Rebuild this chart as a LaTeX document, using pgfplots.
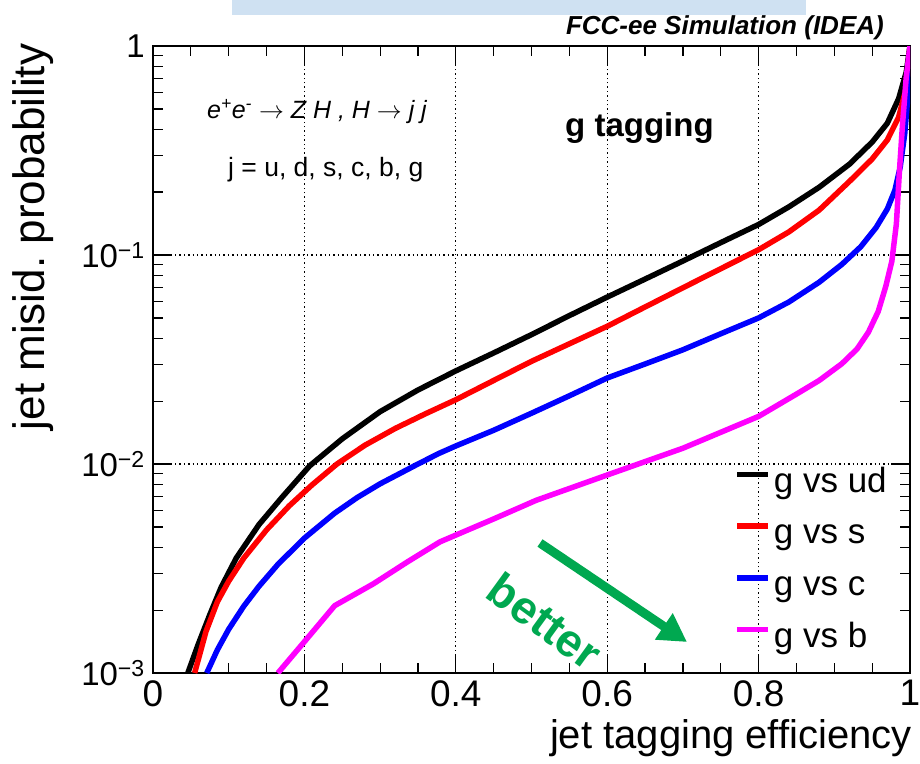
\documentclass[border=0pt]{standalone}
\usepackage{fontspec}
\setmainfont{Liberation Sans}
\usepackage{pgfplots}
\pgfplotsset{compat=1.18}
\usetikzlibrary{arrows.meta}
\definecolor{bettergreen}{RGB}{0,168,80}
\definecolor{boxblue}{RGB}{207,225,242}
\definecolor{cblack}{RGB}{0,0,0}
\definecolor{cred}{RGB}{255,0,0}
\definecolor{cblue}{RGB}{0,0,255}
\definecolor{cmag}{RGB}{255,0,255}
\begin{document}
\begin{tikzpicture}[x=1pt,y=1pt]
\path[use as bounding box] (0,0) rectangle (920,763);
\begin{axis}[
  at={(153pt,90pt)}, anchor=south west,
  scale only axis, width=757pt, height=627pt,
  xmin=0, xmax=1, ymin=1e-3, ymax=1, ymode=log,
  xtick={0,0.2,0.4,0.6,0.8,1},
  xticklabels={0,0.2,0.4,0.6,0.8,1},
  minor x tick num=3,
  ytick={0.001,0.01,0.1,1},
  yticklabels={10\textsuperscript{−3},10\textsuperscript{−2},10\textsuperscript{−1},1},
  minor ytick={0.002,0.003,0.004,0.005,0.006,0.007,0.008,0.009,0.02,0.03,0.04,0.05,0.06,0.07,0.08,0.09,0.2,0.3,0.4,0.5,0.6,0.7,0.8,0.9},
  tick align=inside,
  major tick length=19pt, minor tick length=10pt,
  every tick/.style={black, line width=1.2pt},
  axis line style={line width=1.8pt},
  xmajorgrids, ymajorgrids,
  major grid style={black, line width=1.1pt, dash pattern=on 1.4pt off 3pt},
  xticklabel style={font=\fontsize{37}{37}\selectfont, inner sep=0pt, yshift=-7pt},
  yticklabel style={font=\fontsize{33}{33}\selectfont, inner sep=0pt, xshift=-8pt},
  legend cell align=left,
  legend image code/.code={\draw[#1,line width=5.5pt] (0pt,9pt) -- (31pt,9pt);},
  legend style={at={(0.768,0.3285)}, anchor=north west, draw=none, fill=none,
    inner sep=0pt, outer sep=0pt, row sep=18.7pt,
    font=\fontsize{35}{35}\selectfont,
    nodes={inner sep=0pt, text height=25pt, text depth=8pt},
    /tikz/every odd column/.append style={column sep=3pt}},
  every axis plot/.append style={line width=5.5pt, line join=round, no marks},
]
\addplot[cblack] coordinates {
(0.046,0.001) (0.06,0.00138) (0.075,0.0019) (0.09,0.00257) (0.11,0.00355)
(0.14,0.00513) (0.17,0.0069) (0.207,0.0098) (0.25,0.0132) (0.3,0.0178)
(0.35,0.0226) (0.4,0.0279) (0.45,0.0340) (0.5,0.0416) (0.55,0.0513)
(0.6,0.0629) (0.65,0.0767) (0.7,0.0936) (0.75,0.1146) (0.8,0.140)
(0.84,0.170) (0.88,0.211) (0.92,0.272) (0.95,0.347) (0.97,0.427)
(0.985,0.56) (0.995,0.75) (1.0,1.0)};
\addlegendentry{g vs ud}
\addplot[cred] coordinates {
(0.055,0.001) (0.07,0.00158) (0.085,0.00219) (0.1,0.00275) (0.12,0.00355)
(0.15,0.00484) (0.18,0.00631) (0.21,0.00794) (0.243,0.0100) (0.28,0.0123)
(0.32,0.0148) (0.36,0.0174) (0.4,0.0203) (0.45,0.0251) (0.5,0.0310)
(0.55,0.0376) (0.6,0.0456) (0.65,0.0564) (0.7,0.0697) (0.75,0.0860)
(0.8,0.106) (0.84,0.129) (0.88,0.164) (0.92,0.225) (0.95,0.288)
(0.97,0.355) (0.985,0.457) (0.995,0.63) (1.0,1.0)};
\addlegendentry{g vs s}
\addplot[cblue] coordinates {
(0.071,0.001) (0.085,0.00129) (0.1,0.00162) (0.12,0.00209) (0.14,0.0026)
(0.165,0.00331) (0.2,0.00442) (0.24,0.00582) (0.27,0.00692) (0.3,0.00804)
(0.35,0.0100) (0.378,0.01125) (0.4,0.0122) (0.45,0.0145) (0.5,0.0175)
(0.55,0.0212) (0.6,0.0258) (0.65,0.0301) (0.7,0.0352) (0.75,0.0420)
(0.8,0.050) (0.84,0.0596) (0.88,0.0741) (0.91,0.0902) (0.935,0.1096)
(0.955,0.135) (0.97,0.166) (0.98,0.204) (0.987,0.263) (0.993,0.38)
(0.997,0.56) (1.0,1.0)};
\addlegendentry{g vs c}
\addplot[cmag] coordinates {
(0.165,0.001) (0.202,0.00144) (0.24,0.0021) (0.291,0.00267) (0.336,0.0034)
(0.379,0.00424) (0.45,0.00546) (0.506,0.0067) (0.6,0.00886) (0.7,0.0119)
(0.8,0.0169) (0.85,0.0216) (0.88,0.0251) (0.91,0.0302) (0.93,0.0355)
(0.945,0.0427) (0.958,0.0537) (0.968,0.0708) (0.976,0.0933) (0.982,0.141)
(0.986,0.251) (0.99,0.417) (0.995,0.708) (1.0,1.0)};
\addlegendentry{g vs b}
\end{axis}
% axis titles
\node[rotate=90, anchor=base, inner sep=0pt, font=\fontsize{44}{44}\selectfont] at (44,526) {jet misid.\ probability};
\node[anchor=base east, inner sep=0pt, font=\fontsize{40}{40}\selectfont] at (912,15) {jet tagging efficiency};
% header
\node[anchor=base east, inner sep=0pt, font=\bfseries\itshape\fontsize{26}{26}\selectfont] at (884,728) {FCC-ee Simulation (IDEA)};
\fill[white] (0,748) rectangle (920,763);
\fill[boxblue] (232,748.3) rectangle (806,763);
% annotations
\node[anchor=base west, inner sep=0pt, font=\itshape\fontsize{25}{25}\selectfont] at (207,644) {e\textsuperscript{+}e\textsuperscript{-} $\rightarrow$ Z H , H $\rightarrow$ j j};
\node[anchor=base west, inner sep=0pt, font=\fontsize{26.5}{26.5}\selectfont] at (228,586) {j = u, d, s, c, b, g};
\node[anchor=base west, inner sep=0pt, font=\bfseries\fontsize{33}{33}\selectfont] at (565,626) {g tagging};
\node[rotate=-36, text=bettergreen, inner sep=0pt, font=\bfseries\fontsize{46}{46}\selectfont] at (545,142) {better};
\draw[bettergreen, line width=9pt, -{Triangle[length=28pt,width=30pt]}] (540,220) -- (687,121);
\end{tikzpicture}
\end{document}
